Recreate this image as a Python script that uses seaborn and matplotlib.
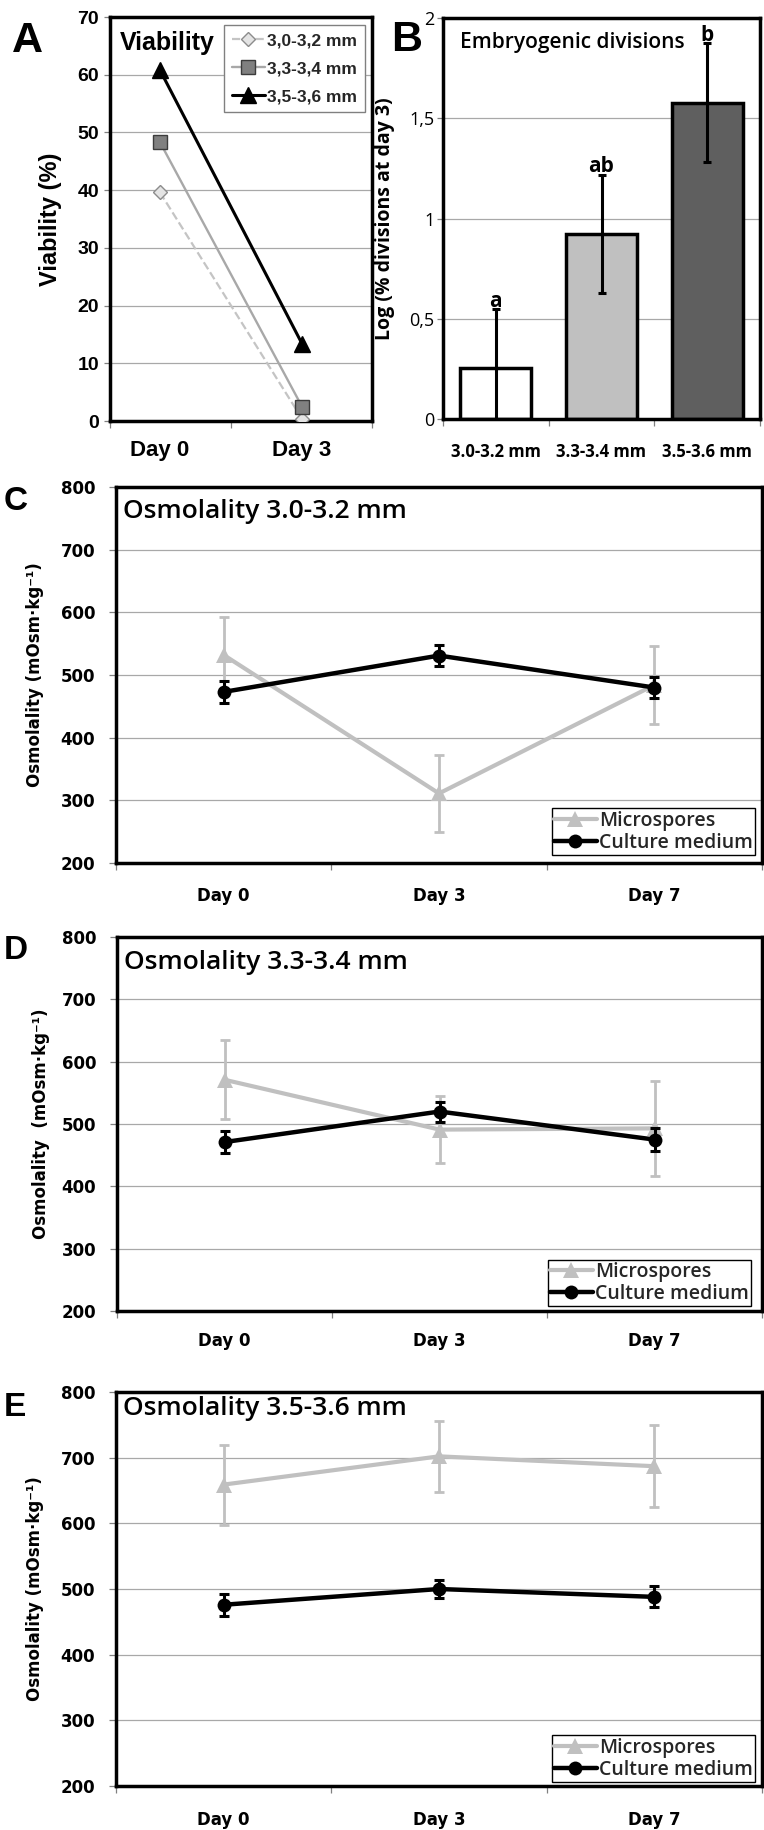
import numpy as np
import pandas as pd
import matplotlib
matplotlib.use("Agg")
import matplotlib.pyplot as plt
import seaborn as sns
from matplotlib.ticker import FixedLocator, NullFormatter
from matplotlib.font_manager import FontProperties

sns.set_theme(style="white")
plt.rcParams['font.family'] = ['DejaVu Sans']

# ---------------- data ----------------
viab_days = ["Day 0", "Day 3"]
viab_sizes = ["3,0-3,2 mm", "3,3-3,4 mm", "3,5-3,6 mm"]
viab_30_32 = [39.6, 0.4]
viab_33_34 = [48.3, 2.5]
viab_35_36 = [60.8, 13.4]
viab_yticks = [0, 10, 20, 30, 40, 50, 60, 70]

div_sizes = ["3.0-3.2 mm", "3.3-3.4 mm", "3.5-3.6 mm"]
div_log = [0.254, 0.923, 1.578]
div_err = [0.295, 0.295, 0.297]
div_letters = ["a", "ab", "b"]
div_yticks = [0, 0.5, 1, 1.5, 2]
div_yticklabels = ["0", "0,5", "1", "1,5", "2"]

osm_days = ["Day 0", "Day 3", "Day 7"]
osm_yticks = [200, 300, 400, 500, 600, 700, 800]
osm_series = ["Microspores", "Culture medium"]

C_micro = [532, 311, 484]
C_micro_err = [61, 62, 62]
C_medium = [473, 531, 480]
C_medium_err = [17, 17, 17]

D_micro = [571, 491, 493]
D_micro_err = [63, 54, 76]
D_medium = [471, 520, 475]
D_medium_err = [17, 16, 18]

E_micro = [659, 702, 687]
E_micro_err = [61, 54, 62]
E_medium = [476, 500, 488]
E_medium_err = [17, 14, 16]

# ---------------- layout helpers ----------------
W, H = 764, 1830
fig = plt.figure(figsize=(W / 100, H / 100), dpi=100)
fig.patch.set_facecolor("white")


def px_axes(l, t, r, b):
    return fig.add_axes([l / W, 1 - b / H, (r - l) / W, (b - t) / H])


def frame(ax, ylen=4, ypad=4):
    for s in ax.spines.values():
        s.set_visible(True)
        s.set_color("black")
        s.set_linewidth(2.5)
    ax.set_facecolor("white")
    ax.grid(False)
    ax.yaxis.grid(True, color="#a8a8a8", lw=0.9)
    ax.set_axisbelow(True)
    ax.tick_params(axis="y", which="major", direction="out", length=ylen, width=0.9,
                   color="#808080", left=True, pad=ypad)
    ax.tick_params(axis="x", which="major", length=0, bottom=True)
    ax.tick_params(axis="x", which="minor", direction="out", length=5, width=0.9,
                   color="#808080", bottom=True)


LIB = "Liberation Sans"
OPEN = "Open Sans"

# ---------------- Panel A ----------------
axA = px_axes(110, 17, 372, 421)
xA = np.arange(len(viab_days))
sns.lineplot(x=xA, y=viab_30_32, ax=axA, color="#c4c4c4", lw=1.6, linestyle="--",
             marker="D", markersize=7.5, markerfacecolor="#e4e4e4",
             markeredgecolor="#8c8c8c", markeredgewidth=1, label=viab_sizes[0], zorder=3)
sns.lineplot(x=xA, y=viab_33_34, ax=axA, color="#a8a8a8", lw=1.7, marker="s",
             markersize=10, markerfacecolor="#808080", markeredgecolor="#3c3c3c",
             markeredgewidth=1, label=viab_sizes[1], zorder=4)
sns.lineplot(x=xA, y=viab_35_36, ax=axA, color="black", lw=2.2, marker="^",
             markersize=11, markerfacecolor="black", markeredgecolor="black",
             markeredgewidth=1, label=viab_sizes[2], zorder=5)
frame(axA, ylen=4, ypad=4)
axA.set_xlim(-0.352, 1.493)
axA.set_ylim(0, 70)
axA.set_yticks(viab_yticks)
axA.set_yticklabels([str(v) for v in viab_yticks], fontfamily=LIB, fontweight="bold", fontsize=14, color="black")
axA.set_xticks(xA)
axA.set_xticklabels(viab_days, fontfamily=LIB, fontweight="bold", fontsize=16, color="black")
axA.tick_params(axis="x", which="major", pad=14)
axA.xaxis.set_minor_locator(FixedLocator([-0.352, 0.5, 1.493]))
axA.xaxis.set_minor_formatter(NullFormatter())
axA.set_xlabel("")
axA.set_ylabel("Viability (%)", fontfamily=LIB, fontweight="bold", fontsize=17, color="black")
axA.yaxis.set_label_coords(-0.183, 0.5)
axA.text(0.038, 0.936, "Viability", transform=axA.transAxes, fontfamily=LIB,
         fontweight="bold", fontsize=18, va="center", ha="left", color="black")
legA = axA.legend(loc="upper right", bbox_to_anchor=(0.973, 0.98), borderaxespad=0,
                  prop=FontProperties(family=LIB, weight="bold", size=12.5),
                  frameon=True, fancybox=False, framealpha=1, edgecolor="#808080",
                  handlelength=1.9, handletextpad=0.15, labelspacing=0.75, borderpad=0.45)
legA.get_frame().set_linewidth(1)

# ---------------- Panel B ----------------
axB = px_axes(443, 18, 760, 419)
dfB = pd.DataFrame({"size": div_sizes, "log": div_log})
sns.barplot(data=dfB, x="size", y="log", hue="size", palette=["#ffffff", "#c0c0c0", "#5f5f5f"],
            saturation=1, edgecolor="black", linewidth=2.5, width=0.67, errorbar=None,
            legend=False, ax=axB, zorder=2)
xB = np.arange(len(div_sizes))
axB.errorbar(xB, div_log, yerr=div_err, fmt="none", ecolor="black", elinewidth=2.2,
             capsize=3, capthick=2.2, zorder=5)
frame(axB, ylen=4, ypad=2)
axB.set_xlim(-0.5, 2.5)
axB.set_ylim(0, 2)
axB.set_yticks(div_yticks)
axB.set_yticklabels(div_yticklabels, fontfamily=OPEN, fontsize=13, color="black")
axB.set_xticks(xB)
axB.set_xticklabels(div_sizes, fontfamily=OPEN, fontweight="bold", fontsize=12, color="black")
axB.tick_params(axis="x", which="major", pad=17)
axB.xaxis.set_minor_locator(FixedLocator([-0.5, 0.5, 1.5, 2.5]))
axB.xaxis.set_minor_formatter(NullFormatter())
axB.set_xlabel("")
axB.set_ylabel("Log (% divisions at day 3)", fontfamily=OPEN, fontweight="bold", fontsize=14, color="black")
axB.yaxis.set_label_coords(-0.151, 0.5)
axB.text(0.054, 0.938, "Embryogenic divisions", transform=axB.transAxes, fontfamily=OPEN,
         fontweight="semibold", fontsize=15, va="center", ha="left", color="black")
for i, lt in enumerate(div_letters):
    axB.text(xB[i], div_log[i] + div_err[i] + 0.012, lt, ha="center", va="baseline",
             fontfamily=OPEN, fontweight="bold", fontsize=15, color="black", zorder=6)


# ---------------- Panels C, D, E ----------------
def osm_panel(ax, micro, micro_err, medium, medium_err, title, title_y, ylabel,
              label_x, leg_anchor, xpad):
    x = np.arange(len(osm_days))
    ax.errorbar(x, micro, yerr=micro_err, fmt="none", ecolor="#c0c0c0", elinewidth=2,
                capsize=3.5, capthick=2, zorder=2)
    sns.lineplot(x=x, y=micro, ax=ax, color="#c0c0c0", lw=3, marker="^", markersize=11,
                 markerfacecolor="#c0c0c0", markeredgecolor="#c0c0c0", markeredgewidth=0,
                 label=osm_series[0], zorder=3)
    ax.errorbar(x, medium, yerr=medium_err, fmt="none", ecolor="black", elinewidth=2.2,
                capsize=3.5, capthick=2.2, zorder=4)
    sns.lineplot(x=x, y=medium, ax=ax, color="black", lw=3.2, marker="o", markersize=10,
                 markerfacecolor="black", markeredgecolor="black", markeredgewidth=0,
                 label=osm_series[1], zorder=5)
    frame(ax, ylen=5, ypad=10)
    ax.set_xlim(-0.5, 2.5)
    ax.set_ylim(200, 800)
    ax.set_yticks(osm_yticks)
    ax.set_yticklabels([str(v) for v in osm_yticks], fontweight="bold", fontsize=12, color="black")
    ax.set_xticks(x)
    ax.set_xticklabels(osm_days, fontweight="bold", fontsize=12, color="black")
    ax.tick_params(axis="x", which="major", pad=xpad)
    ax.xaxis.set_minor_locator(FixedLocator([-0.5, 0.5, 1.5, 2.5]))
    ax.xaxis.set_minor_formatter(NullFormatter())
    ax.set_xlabel("")
    ax.set_ylabel(ylabel, fontweight="bold", fontsize=12, color="black")
    ax.yaxis.set_label_coords(label_x, 0.5)
    ax.text(0.011, title_y, title, transform=ax.transAxes, fontfamily=OPEN,
            fontweight="semibold", fontsize=19, va="center", ha="left", color="black")
    leg = ax.legend(loc="lower right", bbox_to_anchor=leg_anchor, borderaxespad=0,
                    prop=FontProperties(family=OPEN, weight="semibold", size=14),
                    frameon=True, fancybox=False, framealpha=1, edgecolor="black",
                    handlelength=2.2, handletextpad=0.1, labelspacing=0.1, borderpad=0.12)
    leg.get_frame().set_linewidth(1)


axC = px_axes(116, 487, 762, 863)
osm_panel(axC, C_micro, C_micro_err, C_medium, C_medium_err, "Osmolality 3.0-3.2 mm", 0.936,
          "Osmolality (mOsm·kg⁻¹)", -0.111, (0.989, 0.021), 17)

axD = px_axes(117, 937, 762, 1311)
osm_panel(axD, D_micro, D_micro_err, D_medium, D_medium_err, "Osmolality 3.3-3.4 mm", 0.933,
          "Osmolality  (mOsm·kg⁻¹)", -0.104, (0.983, 0.013), 15)

axE = px_axes(116, 1392, 762, 1786)
osm_panel(axE, E_micro, E_micro_err, E_medium, E_medium_err, "Osmolality 3.5-3.6 mm", 0.957,
          "Osmolality (mOsm·kg⁻¹)", -0.111, (0.989, 0.01), 18)

# ---------------- panel letters ----------------
def letter(txt, x, baseline, size):
    fig.text(x / W, 1 - baseline / H, txt, fontfamily=LIB, fontweight="bold", fontsize=size,
             ha="left", va="baseline", color="black")

letter("A", 12, 52, 31)
letter("B", 391, 51, 31)
letter("C", 4, 510, 24)
letter("D", 4, 959, 24)
letter("E", 4, 1416, 24)

fig.savefig("out.png", dpi=100, facecolor="white")
